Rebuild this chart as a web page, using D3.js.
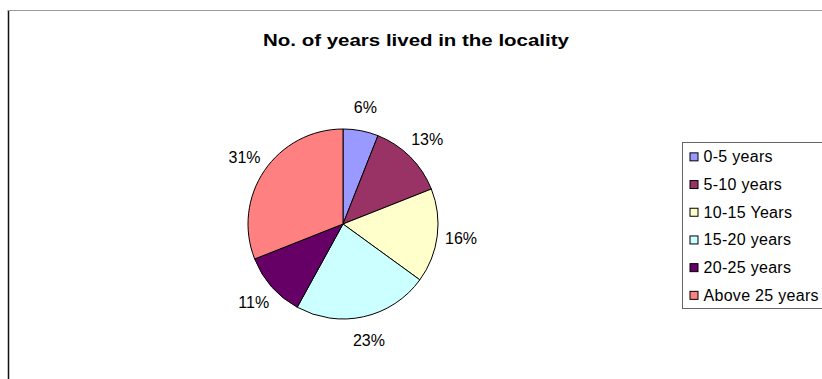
<!DOCTYPE html>
<html>
<head>
<meta charset="utf-8">
<script src="https://cdn.jsdelivr.net/npm/d3@7"></script>
<style>
  body { margin: 0; background: #fff; }
  svg { display: block; font-family: "Liberation Sans", Arial, sans-serif; }
</style>
</head>
<body>
<div id="chart"></div>
<script>
var categories = ["0-5 years", "5-10 years", "10-15 Years", "15-20 years", "20-25 years", "Above 25 years"];
var shares = [6, 13, 16, 23, 11, 31];
var colors = ["#9999FF", "#993366", "#FFFFCC", "#CCFFFF", "#660066", "#FF8080"];
var title = "No. of years lived in the locality";

var totalWidth = 822,
    totalHeight = 379,
    cx = 343,
    cy = 224,
    radius = 95;

var svg = d3.select("#chart")
    .append("svg")
    .attr("width", totalWidth)
    .attr("height", totalHeight);

// chart area border (only left and top edges fall inside the picture)
svg.append("line")
    .attr("x1", 8.5).attr("y1", 10).attr("x2", 8.5).attr("y2", totalHeight)
    .style("stroke", "#111").style("stroke-width", 1.5);
svg.append("line")
    .attr("x1", 8).attr("y1", 10.5).attr("x2", totalWidth).attr("y2", 10.5)
    .style("stroke", "#999").style("stroke-width", 1);

// title is drawn wide in the original, so stretch it horizontally
svg.append("text")
    .attr("transform", "translate(416,46) scale(1.28,1)")
    .attr("text-anchor", "middle")
    .style("font-size", "16px")
    .style("font-weight", "bold")
    .style("fill", "#000")
    .text(title);

var pie = d3.pie().sort(null).value(d => d);
var arcs = pie(shares);

var arc = d3.arc().innerRadius(0).outerRadius(radius);

var pieGroup = svg.append("g")
    .attr("transform", "translate(" + cx + "," + cy + ")");

pieGroup.selectAll("path")
    .data(arcs)
    .enter()
    .append("path")
    .attr("d", arc)
    .style("fill", (d, i) => colors[i])
    .style("stroke", "#000")
    .style("stroke-width", 1);

var labelArc = d3.arc().innerRadius(radius + 24).outerRadius(radius + 24);

pieGroup.selectAll("text.lbl")
    .data(arcs)
    .enter()
    .append("text")
    .attr("class", "lbl")
    .attr("x", d => labelArc.centroid(d)[0])
    .attr("y", d => labelArc.centroid(d)[1])
    .attr("text-anchor", "middle")
    .attr("dominant-baseline", "central")
    .style("font-size", "16px")
    .style("fill", "#000")
    .text(d => d.data + "%");

// legend
var legendTop = 142,
    legendLeft = 682.5,
    rowH = 27.7;

var y = d3.scaleBand()
    .domain(categories)
    .range([legendTop + 1, legendTop + 1 + rowH * categories.length]);

svg.append("rect")
    .attr("x", legendLeft)
    .attr("y", legendTop + 0.5)
    .attr("width", 160)
    .attr("height", 166)
    .style("fill", "#fff")
    .style("stroke", "#666")
    .style("stroke-width", 1);

var items = svg.append("g").selectAll("g")
    .data(categories)
    .enter()
    .append("g")
    .attr("transform", d => "translate(" + legendLeft + "," + (y(d) + y.bandwidth() / 2) + ")");

items.append("rect")
    .attr("x", 7.5)
    .attr("y", -4)
    .attr("width", 8)
    .attr("height", 8)
    .style("fill", (d, i) => colors[i])
    .style("stroke", "#000")
    .style("stroke-width", 1);

items.append("text")
    .attr("x", 21)
    .attr("y", 0)
    .attr("dominant-baseline", "central")
    .style("font-size", "16px")
    .style("letter-spacing", "0.3px")
    .style("fill", "#000")
    .text(d => d);
</script>
</body>
</html>
